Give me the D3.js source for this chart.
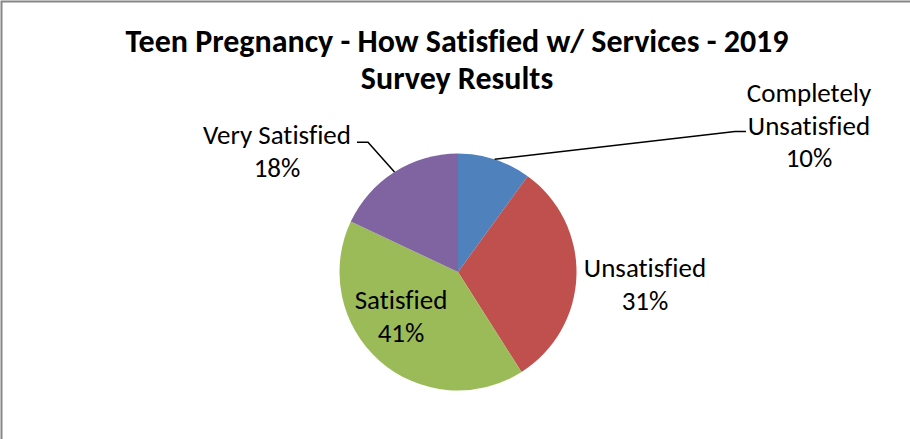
<!DOCTYPE html>
<html>
<head>
<meta charset="utf-8">
<script src="https://cdn.jsdelivr.net/npm/d3@7"></script>
<style>
  body { margin: 0; background: #fff; }
  svg { display: block; }
  text { font-family: Calibri, Carlito, "Liberation Sans", Arial, sans-serif; fill: #000; font-variant-ligatures: none; }
</style>
</head>
<body>
<svg id="chart" width="910" height="439"></svg>
<script>
// chart data
const categories = ["Completely Unsatisfied", "Unsatisfied", "Satisfied", "Very Satisfied"];
const percents = [10, 31, 41, 18];
const labelLines = [["Completely", "Unsatisfied", "10%"], ["Unsatisfied", "31%"], ["Satisfied", "41%"], ["Very Satisfied", "18%"]];
const titleLines = ["Teen Pregnancy - How Satisfied w/ Services - 2019", "Survey Results"];

const colors = ["#4f81bd", "#c0504d", "#9bbb59", "#8064a2"];

const svg = d3.select("#chart");
const width = 910, height = 439;

// frame (only top and left edges show in the crop)
svg.append("path")
    .attr("d", "M1.5,439 V1.5 H910")
    .attr("fill", "none")
    .attr("stroke", "#868686")
    .attr("stroke-width", 2);

svg.append("g")
    .selectAll("text")
    .data(titleLines)
    .enter()
    .append("text")
    .attr("x", 457)
    .attr("y", (d, i) => 52 + i * 37)
    .attr("text-anchor", "middle")
    .style("font-weight", "bold")
    .style("font-size", "32px")
    .text(d => d);

const cx = 458, cy = 272, radius = 118.5;

const pie = d3.pie().sort(null).value(d => d);
const arcs = pie(percents);
const arc = d3.arc().innerRadius(0).outerRadius(radius);

const g = svg.append("g").attr("transform", `translate(${cx},${cy})`);

g.selectAll("path")
    .data(arcs)
    .enter()
    .append("path")
    .attr("d", arc)
    .attr("fill", (d, i) => colors[i]);

// label layout: centre of the text block and leader elbow (if any)
const labelLayout = [
    { x: 809, y: 93, elbow: [[735, 131.5], [746, 131.5]] },
    { x: 645, y: 268, elbow: null },
    { x: 401, y: 300, elbow: null },
    { x: 277, y: 135, elbow: [[368, 142.3], [357, 142.3]] }
];
const lineHeight = 32.5;

const edgePoint = function(d) {
    const a = (d.startAngle + d.endAngle) / 2;
    return [cx + radius * Math.sin(a), cy - radius * Math.cos(a)];
};

const line = d3.line();

svg.append("g")
    .selectAll("path")
    .data(arcs.filter((d, i) => labelLayout[i].elbow))
    .enter()
    .append("path")
    .attr("d", d => line([edgePoint(d)].concat(labelLayout[d.index].elbow)))
    .attr("fill", "none")
    .attr("stroke", "#000")
    .attr("stroke-width", 1.5);

const labels = svg.append("g")
    .selectAll("text")
    .data(arcs)
    .enter()
    .append("text")
    .attr("text-anchor", "middle")
    .style("font-size", "27px");

labels.selectAll("tspan")
    .data(d => labelLines[d.index].map(t => ({ t: t, i: d.index })))
    .enter()
    .append("tspan")
    .attr("x", d => labelLayout[d.i].x)
    .attr("y", (d, j) => labelLayout[d.i].y + j * lineHeight)
    .attr("dy", "0.35em")
    .text(d => d.t);
</script>
</body>
</html>
